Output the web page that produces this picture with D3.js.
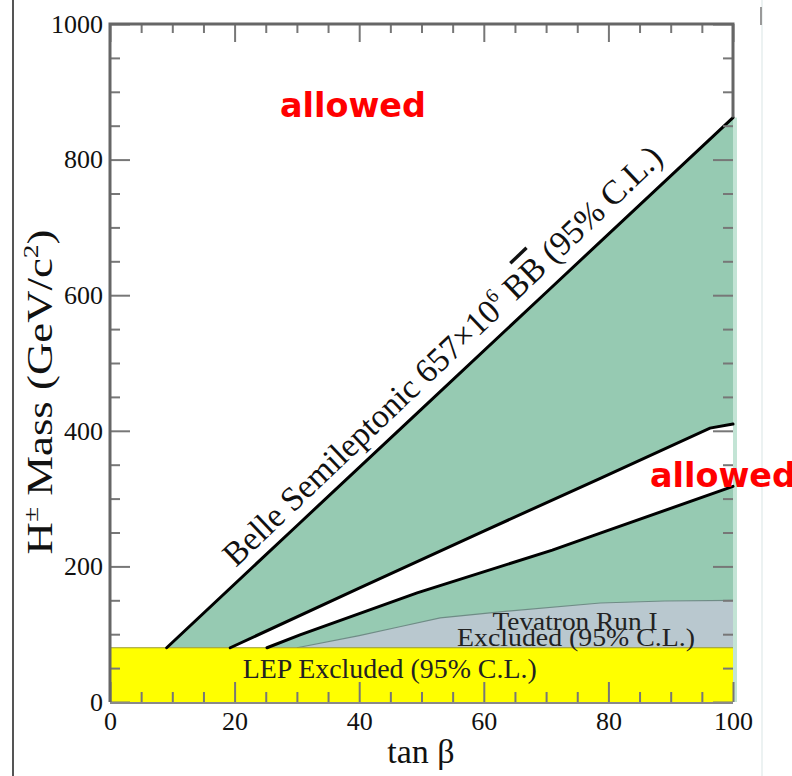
<!DOCTYPE html>
<html>
<head>
<meta charset="utf-8">
<script src="https://cdn.jsdelivr.net/npm/d3@7"></script>
<style>
  body { margin: 0; background: #fff; }
  svg { display: block; }
</style>
</head>
<body>
<div id="chart"></div>
<script>
const WIDTH = 792;
const HEIGHT = 776;

// boundary curves (tan beta, mass in GeV)
const belleTan  = [9.1, 30, 50, 70, 100];
const belleMass = [80, 260, 432, 604, 862];
const upperTan  = [19.3, 40, 60, 78.7, 96.3, 100];
const upperMass = [80, 168, 252, 330, 404, 410];
const lowerTan  = [25.2, 30.5, 49.3, 71, 78.7, 100];
const lowerMass = [80, 99, 161, 224, 249, 318];
const tevTan    = [30, 40, 46.5, 53, 62.6, 78.7, 89, 100];
const tevMass   = [80, 98, 111, 124, 133, 146, 149, 150];
const lepMass   = 80;

const xMajor = [0, 20, 40, 60, 80, 100];
const yMajor = [0, 200, 400, 600, 800, 1000];
const xMinor = d3.range(0, 101, 5).filter(v => v % 20 != 0);
const yMinor = d3.range(0, 1001, 50).filter(v => v % 200 != 0);

const SERIF = "'Liberation Serif', 'DejaVu Serif', serif";

const svg = d3.select("#chart").append("svg")
    .attr("width", WIDTH).attr("height", HEIGHT);

const x = d3.scaleLinear().domain([0, 100]).range([110, 733]);
const y = d3.scaleLinear().domain([0, 1000]).range([702, 24]);

const zip = (a, b) => a.map((v, i) => [v, b[i]]);
const belle = zip(belleTan, belleMass);
const upper = zip(upperTan, upperMass);
const lower = zip(lowerTan, lowerMass);
const tev = zip(tevTan, tevMass);

const line = d3.line().x(d => x(d[0])).y(d => y(d[1]));

// page border lines
svg.append("line").attr("x1", 13).attr("x2", 13).attr("y1", 0).attr("y2", HEIGHT)
   .attr("stroke", "#555").attr("stroke-width", 2);
svg.append("line").attr("x1", 762).attr("x2", 762).attr("y1", 0).attr("y2", HEIGHT)
   .attr("stroke", "#e6eeee").attr("stroke-width", 1.5);
svg.append("line").attr("x1", 761).attr("x2", 761).attr("y1", 7).attr("y2", 25)
   .attr("stroke", "#999").attr("stroke-width", 2);

// excluded (green) area below Belle line
svg.append("rect")
   .attr("x", x(100)).attr("y", y(belleMass.at(-1)))
   .attr("width", 4).attr("height", y(0) - y(belleMass.at(-1)))
   .attr("fill", "#c3e4d5");
svg.append("path")
   .attr("d", line(belle.concat([[100, lepMass], [belleTan[0], lepMass]])) + "Z")
   .attr("fill", "#96cab2");

// allowed band
svg.append("path")
   .attr("d", line(upper.concat(lower.slice().reverse())) + "Z")
   .attr("fill", "#fff");

// Tevatron
svg.append("path")
   .attr("d", line(tev.concat([[100, lepMass]])) + "Z")
   .attr("fill", "#b9c8cf");
svg.append("path")
   .attr("d", line(tev))
   .attr("fill", "none").attr("stroke", "#6f8c86").attr("stroke-width", 1.2);

// LEP
svg.append("rect")
   .attr("x", x(0)).attr("y", y(lepMass))
   .attr("width", x(100) - x(0)).attr("height", y(0) - y(lepMass))
   .attr("fill", "#ffff00");
svg.append("line")
   .attr("x1", x(0)).attr("x2", x(100)).attr("y1", y(lepMass)).attr("y2", y(lepMass))
   .attr("stroke", "#9a9a30").attr("stroke-width", 1);

// black boundaries
[belle, upper, lower].forEach(pts => {
    svg.append("path")
       .attr("d", line(pts))
       .attr("fill", "none").attr("stroke", "#000")
       .attr("stroke-width", 3).attr("stroke-linecap", "round");
});

// axes
let styleAxis = (g, w) => {
    g.selectAll("line").attr("stroke", "#777").attr("stroke-width", w);
    g.selectAll("path").remove();
    g.selectAll("text").attr("font-family", SERIF).attr("font-size", 26).attr("fill", "#111");
};

let gLeft = svg.append("g").attr("transform", `translate(${x(0)},0)`)
    .call(d3.axisLeft(y).tickValues(yMajor).tickSize(-20).tickPadding(7).tickFormat(d3.format("d")));
styleAxis(gLeft, 2);
let gLeftMinor = svg.append("g").attr("transform", `translate(${x(0)},0)`)
    .call(d3.axisLeft(y).tickValues(yMinor).tickSize(-10).tickFormat(""));
styleAxis(gLeftMinor, 2);

let gRight = svg.append("g").attr("transform", `translate(${x(100)},0)`)
    .call(d3.axisRight(y).tickValues(yMajor).tickSize(-20).tickFormat(""));
styleAxis(gRight, 2);
let gRightMinor = svg.append("g").attr("transform", `translate(${x(100)},0)`)
    .call(d3.axisRight(y).tickValues(yMinor).tickSize(-10).tickFormat(""));
styleAxis(gRightMinor, 2);

let gBottom = svg.append("g").attr("transform", `translate(0,${y(0)})`)
    .call(d3.axisBottom(x).tickValues(xMajor).tickSize(-20).tickPadding(10).tickFormat(d3.format("d")));
styleAxis(gBottom, 2);
let gBottomMinor = svg.append("g").attr("transform", `translate(0,${y(0)})`)
    .call(d3.axisBottom(x).tickValues(xMinor).tickSize(-10).tickFormat(""));
styleAxis(gBottomMinor, 2);

let gTop = svg.append("g").attr("transform", `translate(0,${y(1000)})`)
    .call(d3.axisTop(x).tickValues(xMajor).tickSize(-18).tickFormat(""));
styleAxis(gTop, 2);
let gTopMinor = svg.append("g").attr("transform", `translate(0,${y(1000)})`)
    .call(d3.axisTop(x).tickValues(xMinor).tickSize(-9).tickFormat(""));
styleAxis(gTopMinor, 2);

// frame
svg.append("path")
   .attr("d", `M${x(0)},${y(0)}V${y(1000)}H${x(100)}V${y(belleMass.at(-1))}`)
   .attr("fill", "none").attr("stroke", "#666").attr("stroke-width", 3);
svg.append("line")
   .attr("x1", x(0)).attr("x2", x(100)).attr("y1", y(0) + 1).attr("y2", y(0) + 1)
   .attr("stroke", "#8a8a8a").attr("stroke-width", 2);

// axis titles
svg.append("text")
   .attr("x", 421).attr("y", 763)
   .attr("text-anchor", "middle")
   .attr("font-family", SERIF).attr("font-size", 34).attr("fill", "#111")
   .text("tan β");

let yTitle = svg.append("text")
   .attr("transform", "translate(52,392) rotate(-90)")
   .attr("text-anchor", "middle")
   .attr("font-family", SERIF).attr("font-size", 36).attr("fill", "#111")
   .attr("textLength", 325).attr("lengthAdjust", "spacingAndGlyphs");
yTitle.append("tspan").text("H");
yTitle.append("tspan").attr("font-size", 22).attr("dy", -14).text("±");
yTitle.append("tspan").attr("dy", 14).text(" Mass (GeV/c");
yTitle.append("tspan").attr("font-size", 22).attr("dy", -14).text("2");
yTitle.append("tspan").attr("dy", 14).text(")");

// Belle label along its line
let bt = 21.4;
let ax = x(bt), ay = y(80 + (bt - 9.1) * (260 - 80) / (30 - 9.1));
let ang = 43.6 * Math.PI / 180;
let off = 11;
let bx = ax - off * Math.sin(ang), by = ay - off * Math.cos(ang);
let belleLabel = svg.append("text")
   .attr("transform", `translate(${bx},${by}) rotate(-43.6)`)
   .attr("font-family", SERIF).attr("font-size", 34).attr("fill", "#111")
   .attr("textLength", 592).attr("lengthAdjust", "spacingAndGlyphs");
belleLabel.append("tspan").text("Belle Semileptonic 657×10");
belleLabel.append("tspan").attr("font-size", 20).attr("dy", -14).text("6");
belleLabel.append("tspan").attr("dy", 14).text(" B");
belleLabel.append("tspan").attr("text-decoration", "overline").text("B");
belleLabel.append("tspan").text(" (95% C.L.)");

// Tevatron label
svg.append("text")
   .attr("x", x(61.4)).attr("y", y(106))
   .attr("font-family", SERIF).attr("font-size", 26).attr("fill", "#222")
   .attr("textLength", 165).attr("lengthAdjust", "spacingAndGlyphs")
   .text("Tevatron Run I");
svg.append("text")
   .attr("x", x(55.7)).attr("y", y(82))
   .attr("font-family", SERIF).attr("font-size", 26).attr("fill", "#222")
   .attr("textLength", 238).attr("lengthAdjust", "spacingAndGlyphs")
   .text("Excluded (95% C.L.)");

// LEP label
svg.append("text")
   .attr("x", x(21.3)).attr("y", y(35))
   .attr("font-family", SERIF).attr("font-size", 28).attr("fill", "#222")
   .attr("textLength", 294).attr("lengthAdjust", "spacingAndGlyphs")
   .text("LEP Excluded (95% C.L.)");

// allowed annotations
let allowed = (px, py) => svg.append("text")
   .attr("x", px).attr("y", py)
   .attr("font-family", "'Comic Sans MS', 'DejaVu Sans', sans-serif")
   .attr("font-weight", "bold").attr("font-size", 33).attr("fill", "#ff0000")
   .attr("textLength", 146).attr("lengthAdjust", "spacingAndGlyphs")
   .text("allowed");
allowed(280, 117);
allowed(650, 487);
</script>
</body>
</html>
